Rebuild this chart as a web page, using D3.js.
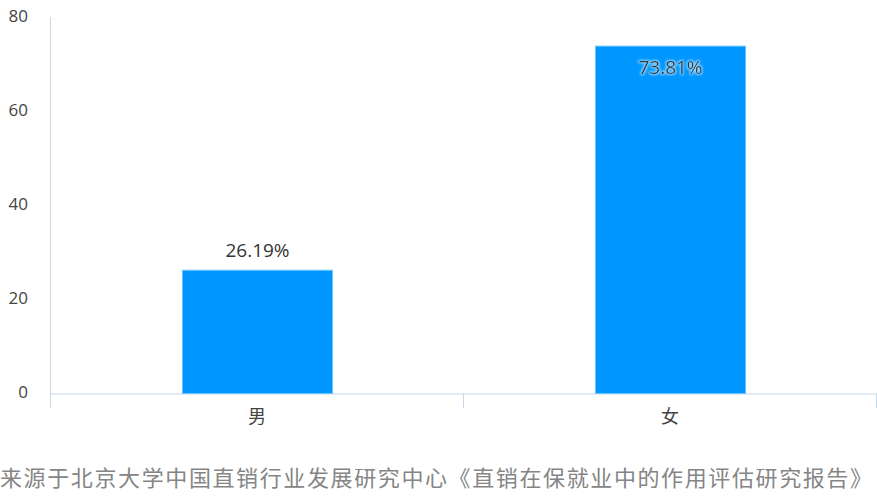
<!DOCTYPE html>
<html><head><meta charset="utf-8">
<script src="https://cdn.jsdelivr.net/npm/d3@7"></script>
<style>
body{margin:0;background:#fff;}
svg{display:block;}
</style></head>
<body>
<svg id="chart" width="877" height="499"></svg>
<script>
const categories = ["男", "女"];
const values = [26.19, 73.81];
const valueLabels = ["26.19%", "73.81%"];
const yTicks = [0, 20, 40, 60, 80];
const sourceText = "来源于北京大学中国直销行业发展研究中心《直销在保就业中的作用评估研究报告》";

const svg = d3.select("#chart");
const plotLeft = 50, plotRight = 876, plotTop = 17, plotBottom = 393.5;

const x = d3.scaleBand().domain(categories).range([plotLeft, plotRight]).paddingInner(0).paddingOuter(0);
const y = d3.scaleLinear().domain([0, 80]).range([plotBottom, plotTop]);

const axisColor = "#c9d8ea";
const textColor = "#444";

// y axis line (extends below baseline)
svg.append("line").attr("x1", plotLeft + 0.5).attr("x2", plotLeft + 0.5).attr("y1", plotTop).attr("y2", 408)
  .attr("stroke", axisColor).attr("stroke-width", 1);

// y tick labels
svg.append("g").selectAll("text").data(yTicks).join("text")
  .attr("x", 28).attr("y", d => y(d) - 1).attr("dy", "0.35em")
  .attr("text-anchor", "end")
  .attr("font-family", "'Open Sans', 'Noto Sans', sans-serif").attr("font-size", 17)
  .attr("fill", textColor).text(d => d);

// x axis
const xAxis = d3.axisBottom(x).tickSize(14).tickFormat("");
const gx = svg.append("g").attr("transform", `translate(0,${plotBottom})`).call(xAxis);
gx.select(".domain").attr("stroke", axisColor).attr("d", `M${plotLeft},0.5H${plotRight + 1}`);
gx.selectAll(".tick").remove();
// boundary ticks between categories
const bounds = [x.range()[0] + x.bandwidth(), x.range()[1]];
svg.append("g").selectAll("line").data(bounds).join("line")
  .attr("x1", d => Math.round(d) + 0.5).attr("x2", d => Math.round(d) + 0.5)
  .attr("y1", plotBottom).attr("y2", 408)
  .attr("stroke", axisColor);

// category labels
svg.append("g").selectAll("text").data(categories).join("text")
  .attr("x", d => x(d) + x.bandwidth() / 2 + 0.5).attr("y", 417).attr("dy", "0.35em")
  .attr("text-anchor", "middle")
  .attr("font-family", "'Noto Sans CJK SC', sans-serif").attr("font-size", 18)
  .attr("fill", textColor).text(d => d);

// bars
const barW = 150;
svg.append("g").selectAll("rect").data(values).join("rect")
  .attr("x", (d, i) => x(categories[i]) + x.bandwidth() / 2 - barW / 2 + 1)
  .attr("y", d => y(d))
  .attr("width", barW)
  .attr("height", d => plotBottom - y(d))
  .attr("fill", "#0096ff")
  .attr("stroke", "#6cc4ff").attr("stroke-width", 1);

// value labels
const defs = svg.append("defs");
const f = defs.append("filter").attr("id", "glow").attr("x", "-20%").attr("y", "-40%").attr("width", "140%").attr("height", "180%");
f.append("feMorphology").attr("in", "SourceAlpha").attr("operator", "dilate").attr("radius", 1).attr("result", "d");
f.append("feGaussianBlur").attr("in", "d").attr("stdDeviation", 1.2).attr("result", "b");
f.append("feFlood").attr("flood-color", "#8fd3ff").attr("result", "c");
f.append("feComposite").attr("in", "c").attr("in2", "b").attr("operator", "in").attr("result", "g");
const m = f.append("feMerge");
m.append("feMergeNode").attr("in", "g");
m.append("feMergeNode").attr("in", "SourceGraphic");

svg.append("g").selectAll("text").data(values).join("text")
  .attr("x", (d, i) => x(categories[i]) + x.bandwidth() / 2 + 1)
  .attr("y", (d, i) => i === 0 ? y(d) - 20 : y(d) + 21)
  .attr("dy", "0.35em")
  .attr("text-anchor", "middle")
  .attr("font-family", "'Open Sans', 'Noto Sans', sans-serif").attr("font-size", 19)
  .attr("fill", "#333")
  .attr("filter", (d, i) => i === 1 ? "url(#glow)" : null)
  .text((d, i) => valueLabels[i]);

// source text
svg.append("text")
  .attr("x", 0).attr("y", 478).attr("dy", "0.35em")
  .attr("font-family", "'Noto Sans CJK SC', sans-serif").attr("font-size", 22)
  .attr("textLength", 872).attr("lengthAdjust", "spacing")
  .attr("fill", "#858585").text(sourceText);
</script>
</body></html>
